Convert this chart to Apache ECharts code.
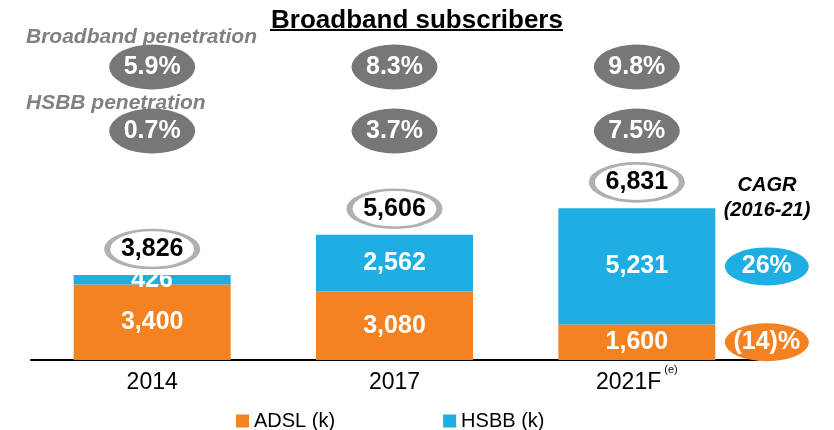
<!DOCTYPE html>
<html>
<head>
<meta charset="utf-8">
<script src="https://cdn.jsdelivr.net/npm/echarts@6/dist/echarts.min.js"></script>
<style>
    html, body { margin: 0; padding: 0; background: #fff; }
    #chart { width: 834px; height: 430px; }
</style>
</head>
<body>
<div id="chart"></div>
<script>
var years = ["2014", "2017", "2021F"];
var adsl = [3400, 3080, 1600];
var hsbb = [426, 2562, 5231];
var totals = [3826, 5606, 6831];
var bbPenetration = [5.9, 8.3, 9.8];
var hsbbPenetration = [0.7, 3.7, 7.5];
var cagrHsbb = 26;
var cagrAdsl = -14;
var penRows = ["Broadband penetration", "HSBB penetration"];

var font = "Liberation Sans, Arial, sans-serif";
var orange = "#F58220";
var blue = "#1EAEE3";

function fmt(n) {
    return n.toLocaleString("en-US");
}
function fmtPct(n) {
    return n < 0 ? "(" + Math.abs(n) + ")%" : n + "%";
}

var chart = echarts.init(document.getElementById("chart"));

var penLabel = {
    show: true,
    position: "inside",
    color: "#fff",
    fontWeight: "bold",
    fontSize: 25,
    fontFamily: font,
    formatter: function (p) {
        return p.value[2].toFixed(1) + "%";
    },
};

chart.setOption({
    backgroundColor: "#fff",
    animation: false,
    title: {
        text: "Broadband subscribers",
        left: "center",
        top: 3,
        textStyle: {
            fontFamily: font,
            fontWeight: "bold",
            fontSize: 26,
            color: "#000",
        },
    },
    legend: {
        left: 231,
        top: 406,
        itemWidth: 13,
        itemHeight: 13,
        itemGap: 108,
        icon: "rect",
        textStyle: { fontFamily: font, fontSize: 20, color: "#000" },
        data: ["ADSL (k)", "HSBB (k)"],
    },
    grid: [
        { left: 31, right: 76, top: 138, bottom: 70 },
        { left: 31, right: 76, top: 35, height: 128 },
    ],
    xAxis: [
        {
            type: "category",
            data: years,
            axisLine: { show: true, lineStyle: { color: "#000", width: 2 } },
            axisTick: { show: false },
            axisLabel: {
                margin: 11,
                formatter: function (v) {
                    return v === "2021F" ? "{a|" + v + "}{s|(e)}" : "{a|" + v + "}";
                },
                rich: {
                    a: { fontFamily: font, fontSize: 23, color: "#000", lineHeight: 24 },
                    s: { fontFamily: font, fontSize: 11, color: "#000", lineHeight: 11, verticalAlign: "bottom", padding: [0, 0, 20, 3] },
                },
            },
        },
        {
            type: "category",
            gridIndex: 1,
            data: years,
            show: false,
        },
    ],
    yAxis: [
        {
            type: "value",
            min: 0,
            max: 10000,
            show: false,
            splitLine: { show: false },
        },
        {
            type: "category",
            gridIndex: 1,
            data: penRows,
            inverse: true,
            show: false,
        },
    ],
    graphic: [
        { type: "line", shape: { x1: 270, y1: 30, x2: 563, y2: 30 }, style: { stroke: "#000", lineWidth: 2 } },
        {
            type: "text", left: 26, top: 27,
            style: { text: "Broadband penetration", fill: "#808080", font: "italic bold 21px " + font },
        },
        {
            type: "text", left: 26, top: 93,
            style: { text: "HSBB penetration", fill: "#808080", font: "italic bold 21px " + font },
        },
        {
            type: "text", x: 767, y: 185,
            style: { text: "CAGR", fill: "#000", font: "italic bold 20px " + font, align: "center", verticalAlign: "middle" },
        },
        {
            type: "text", x: 767, y: 210,
            style: { text: "(2016-21)", fill: "#000", font: "italic bold 20px " + font, align: "center", verticalAlign: "middle" },
        },
    ],
    series: [
        {
            name: "ADSL (k)",
            type: "bar",
            stack: "subs",
            barWidth: 157,
            itemStyle: { color: orange },
            label: {
                show: true,
                position: "inside",
                color: "#fff",
                fontWeight: "bold",
                fontSize: 25,
                fontFamily: font,
                formatter: function (p) { return fmt(p.value); },
            },
            data: adsl,
        },
        {
            name: "HSBB (k)",
            type: "bar",
            stack: "subs",
            barWidth: 157,
            itemStyle: { color: blue },
            label: {
                show: true,
                position: "inside",
                color: "#fff",
                fontWeight: "bold",
                fontSize: 25,
                fontFamily: font,
                formatter: function (p) { return fmt(p.value); },
            },
            data: hsbb,
        },
        {
            name: "total",
            type: "scatter",
            clip: false,
            symbol: "circle",
            symbolSize: [90, 38],
            symbolOffset: [0, -26],
            itemStyle: { color: "#fff", borderColor: "#b0b0b0", borderWidth: 4, opacity: 1 },
            label: {
                show: true,
                position: "inside",
                color: "#000",
                fontWeight: "bold",
                fontSize: 25,
                fontFamily: font,
                formatter: function (p) { return fmt(totals[p.dataIndex]); },
            },
            z: 5,
            data: years.map(function (y, i) { return [y, adsl[i] + hsbb[i]]; }),
        },
        {
            name: "cagr",
            type: "scatter",
            clip: false,
            symbol: "circle",
            symbolSize: [84, 38],
            symbolOffset: [130, 0],
            label: {
                show: true,
                position: "inside",
                color: "#fff",
                fontWeight: "bold",
                fontSize: 25,
                fontFamily: font,
                formatter: function (p) { return fmtPct(p.value[2]); },
            },
            data: [
                { value: [years[2], adsl[2] + hsbb[2] / 2, cagrHsbb], itemStyle: { color: blue, opacity: 1 } },
                { value: [years[2], adsl[2] / 2, cagrAdsl], itemStyle: { color: orange, opacity: 1 } },
            ],
        },
        {
            name: "bbPen",
            type: "scatter",
            xAxisIndex: 1,
            yAxisIndex: 1,
            symbol: "circle",
            symbolSize: [86, 45],
            itemStyle: { color: "#777777", opacity: 1 },
            label: penLabel,
            data: years.map(function (y, i) { return [y, penRows[0], bbPenetration[i]]; }),
        },
        {
            name: "hsbbPen",
            type: "scatter",
            xAxisIndex: 1,
            yAxisIndex: 1,
            symbol: "circle",
            symbolSize: [86, 45],
            itemStyle: { color: "#777777", opacity: 1 },
            label: penLabel,
            data: years.map(function (y, i) { return [y, penRows[1], hsbbPenetration[i]]; }),
        },
    ],
});
</script>
</body>
</html>
